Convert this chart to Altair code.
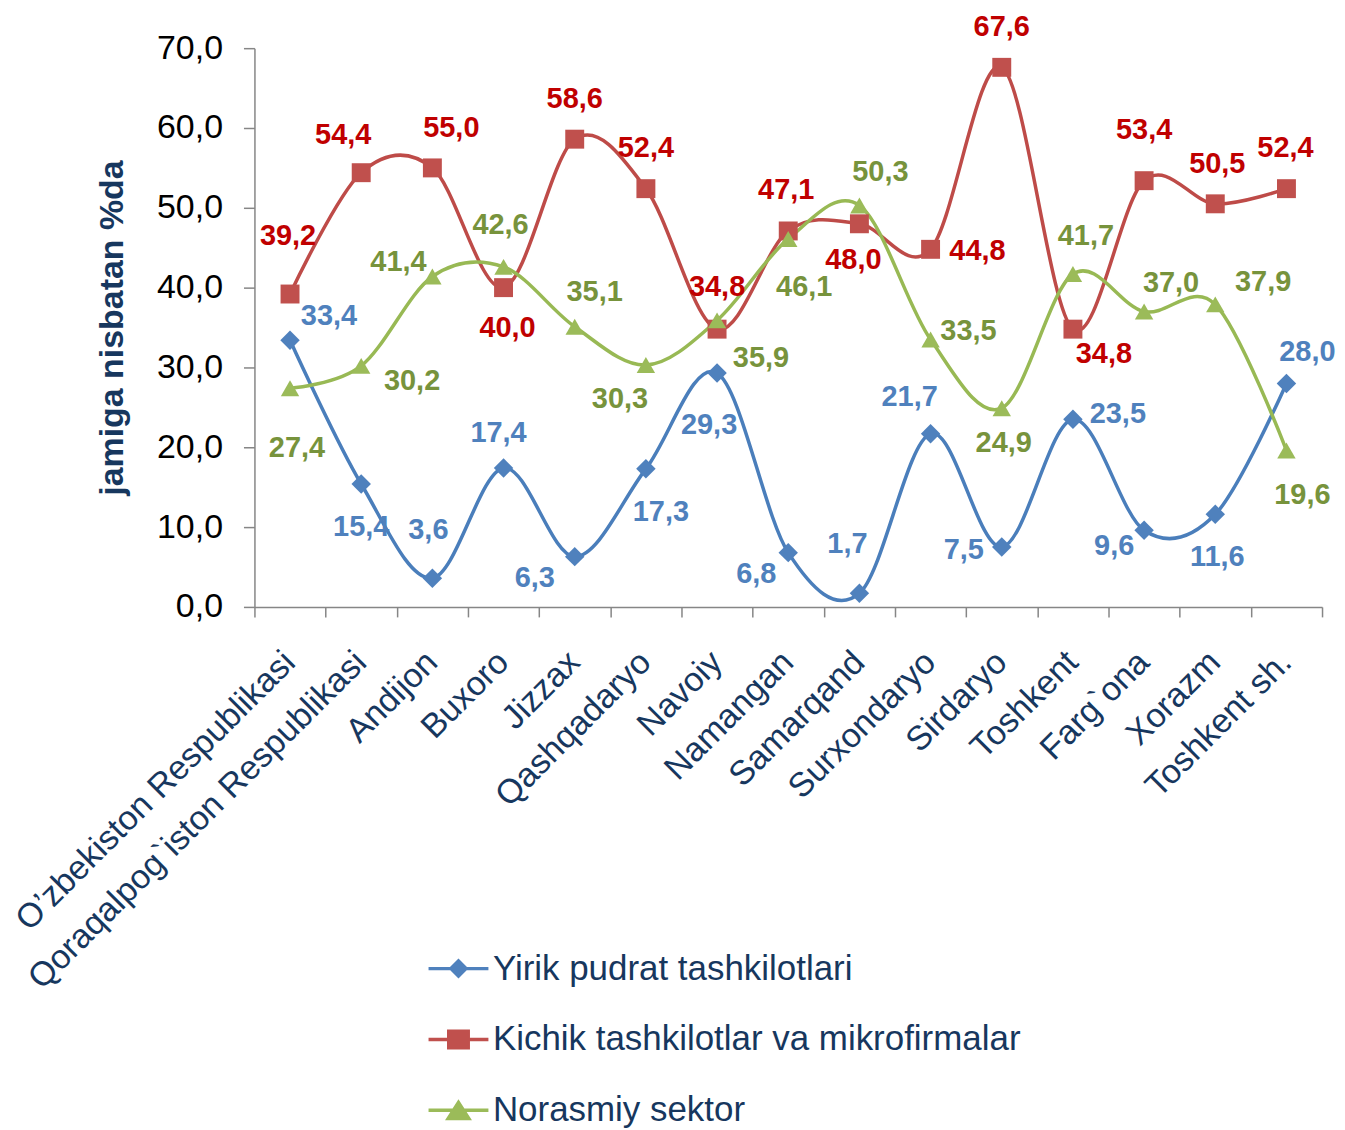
import altair as alt
import pandas as pd

categories = ["O’zbekiston Respublikasi", "Qoraqalpog`iston Respublikasi", "Andijon", "Buxoro",
              "Jizzax", "Qashqadaryo", "Navoiy", "Namangan", "Samarqand", "Surxondaryo",
              "Sirdaryo", "Toshkent", "Farg`ona", "Xorazm", "Toshkent sh."]
series_names = ["Yirik pudrat tashkilotlari", "Kichik tashkilotlar va mikrofirmalar", "Norasmiy sektor"]
yirik = [33.4, 15.4, 3.6, 17.4, 6.3, 17.3, 29.3, 6.8, 1.7, 21.7, 7.5, 23.5, 9.6, 11.6, 28.0]
kichik = [39.2, 54.4, 55.0, 40.0, 58.6, 52.4, 34.8, 47.1, 48.0, 44.8, 67.6, 34.8, 53.4, 50.5, 52.4]
norasmiy = [27.4, 30.2, 41.4, 42.6, 35.1, 30.3, 35.9, 46.1, 50.3, 33.5, 24.9, 41.7, 37.0, 37.9, 19.6]

# label placement offsets (pixels, style only)
blue_dx = [39, 0, -4, -5, -40, 15, -8, -32, -12, -21, -38, 45, -30, 2, 21]
blue_dy = [-24, 43, -48, -35, 21, 43, 52, 21, -49, -37, 3, -5, 16, 43, -31]
red_dx = [-2, -18, 19, 4, 0, 0, 0, -2, -6, 47, 0, 31, 0, 2, -1]
red_dy = [-58, -38, -40, 40, -40, -41, -42, -41, 36, 2, -40, 25, -51, -40, -41]
green_dx = [7, 51, -34, -3, 20, -26, 44, 16, 21, 38, 2, 13, 27, 48, 16]
green_dy = [60, 15, -14, -42, -35, 34, 38, 48, -33, -9, 35, -38, -29, -22, 45]

line_colors = ["#4A7EBB", "#BE4B48", "#98B954"]
marker_colors = ["#4F81BD", "#C0504D", "#9BBB59"]
label_colors = ["#4F81BD", "#C00000", "#77933C"]
NAVY = "#17375E"
GRAY = "#868686"
FONT = "Liberation Sans"

W, H = 1070, 560
BW = W / len(categories)
PXU = H / 70.0

rows = []
for s, vals, dxs, dys in zip(series_names, [yirik, kichik, norasmiy],
                             [blue_dx, red_dx, green_dx], [blue_dy, red_dy, green_dy]):
    for i, (c, v, dx, dy) in enumerate(zip(categories, vals, dxs, dys)):
        rows.append(dict(cat=c, idx=i, series=s, value=v, dx=dx, dy=dy))
df = pd.DataFrame(rows)

y_axis = alt.Axis(values=list(range(0, 80, 10)),
                  labelExpr="replace(format(datum.value, '.1f'), '.', ',')",
                  labelFontSize=34, labelColor="#000000", labelFont=FONT,
                  tickSize=11, labelPadding=21, domainColor=GRAY, tickColor=GRAY,
                  domainWidth=1.5, tickWidth=1.5, grid=False,
                  title="jamiga nisbatan %da", titleFontSize=34, titleFontWeight="bold",
                  titleColor=NAVY, titleFont=FONT, titlePadding=27)
y_scale = alt.Scale(domain=[0, 70], nice=False)

x_axis = alt.Axis(labelAngle=-45, labelAlign="right", labelBaseline="middle",
                  labelFontSize=34, labelColor=NAVY, labelFont=FONT,
                  ticks=False, domain=False, labelPadding=50, labelOffset=0,
                  labelLimit=1000, title=None, grid=False)
x_scale = alt.Scale(type="band", paddingInner=0, paddingOuter=0)

base = alt.Chart(df)

lines = base.mark_line(interpolate="cardinal", strokeWidth=3.5).encode(
    x=alt.X("cat:N", sort=categories, scale=x_scale, axis=x_axis),
    y=alt.Y("value:Q", scale=y_scale, axis=y_axis),
    color=alt.Color("series:N", scale=alt.Scale(domain=series_names, range=line_colors), legend=None),
    detail="series:N",
)

points = base.mark_point(filled=True, opacity=1).encode(
    x=alt.X("cat:N", sort=categories, scale=x_scale, axis=x_axis),
    y=alt.Y("value:Q", scale=y_scale, axis=y_axis),
    color=alt.Color("series:N", scale=alt.Scale(domain=series_names, range=marker_colors), legend=None),
    shape=alt.Shape("series:N", scale=alt.Scale(domain=series_names,
                                                range=["diamond", "square", "triangle-up"]), legend=None),
    size=alt.Size("series:N", scale=alt.Scale(domain=series_names, range=[380, 340, 500]), legend=None),
)

legend_paths = [
    "M-3,-0.17L3,-0.17L3,0.17L-3,0.17Z M0,-1L1,0L0,1L-1,0Z",
    "M-3,-0.17L3,-0.17L3,0.17L-3,0.17Z M-1.15,-1L1.15,-1L1.15,1L-1.15,1Z",
    "M-3,-0.17L3,-0.17L3,0.17L-3,0.17Z M0,-1.1L1.35,1L-1.35,1Z",
]
leg = alt.Legend(orient="none", legendX=187, legendY=905, direction="vertical", title=None,
                 labelFontSize=35, labelColor=NAVY, labelFont=FONT, rowPadding=35,
                 labelOffset=17, symbolStrokeWidth=0, symbolOpacity=1, symbolSize=400,
                 labelLimit=1000)
legend_layer = base.transform_filter("false").mark_point(filled=True, size=400, opacity=1).encode(
    color=alt.Color("series:N", scale=alt.Scale(domain=series_names, range=marker_colors), legend=leg),
    shape=alt.Shape("series:N", scale=alt.Scale(domain=series_names, range=legend_paths), legend=leg),
)

inner = alt.layer(lines, points, legend_layer).resolve_scale(color="independent", shape="independent",
                                                              size="independent")

labels = base.transform_calculate(
    lx=f"datum.idx + datum.dx / {BW}",
    ly=f"datum.value - datum.dy / {PXU}",
    label="replace(format(datum.value, '.1f'), '.', ',')",
).mark_text(align="center", baseline="middle", fontWeight="bold", fontSize=29, font=FONT).encode(
    x=alt.X("lx:Q", scale=alt.Scale(domain=[-0.5, len(categories) - 0.5], nice=False, zero=False),
            axis=alt.Axis(orient="bottom", values=[i - 0.5 for i in range(len(categories) + 1)],
                          labels=False, ticks=True, tickSize=10, domain=True, grid=False, title=None,
                          domainColor=GRAY, tickColor=GRAY, domainWidth=1.5, tickWidth=1.5)),
    y=alt.Y("ly:Q", scale=y_scale, axis=y_axis),
    text="label:N",
    color=alt.Color("series:N", scale=alt.Scale(domain=series_names, range=label_colors), legend=None),
)

chart = alt.layer(inner, labels).resolve_scale(x="independent", color="independent").properties(
    width=W, height=H, background="white",
    autosize=alt.AutoSizeParams(type="none"),
    padding={"left": 247, "top": 39, "right": 15, "bottom": 523},
).configure_view(stroke="transparent", strokeWidth=0)

chart.save("out.html", embed_options={"renderer": "svg", "actions": False})
